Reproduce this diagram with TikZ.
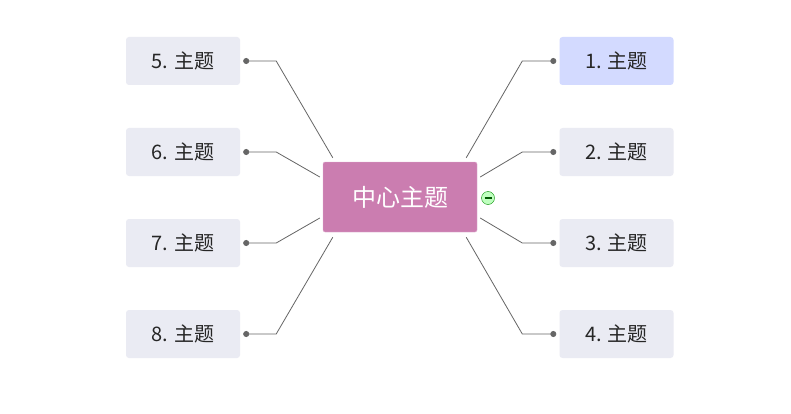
\documentclass[tikz,border=0pt]{standalone}
\usepackage{fontspec}
\setmainfont{Noto Sans CJK SC}
\usepackage{xcolor}
\usetikzlibrary{arrows.meta,positioning,calc}

\definecolor{rootpink}{HTML}{CB7DB0}
\definecolor{topicgray}{HTML}{EAEBF3}
\definecolor{topicblue}{HTML}{D3DAFF}
\definecolor{linegray}{HTML}{666666}

\begin{document}
\begin{tikzpicture}[x=1pt, y=-1pt,
  root/.style={fill=rootpink, draw=rootpink!60!white, rounded corners=2pt, minimum width=154pt, minimum height=70pt, inner sep=0pt, text=white, font=\fontsize{24}{28}\selectfont},
  topic/.style={fill=topicgray, rounded corners=3pt, minimum width=114pt, minimum height=48pt, inner sep=0pt, text=black!85, font=\fontsize{20}{24}\selectfont},
  conn/.style={linegray, line width=0.8pt, -{Circle[length=6pt]}, shorten >=3pt},
  fold/.style={circle, draw=green!55!black, fill=green!25!white, minimum size=13pt, inner sep=0pt}
]
  \useasboundingbox[fill=white] (0,0) rectangle (791,414);

  \node[root] (c) at (400,197) {中心主题};

  \node[topic, fill=topicblue] (t1) at (616.5,61) {1. 主题};
  \node[topic] (t2) at (616.5,152) {2. 主题};
  \node[topic] (t3) at (616.5,243) {3. 主题};
  \node[topic] (t4) at (616.5,334) {4. 主题};
  \node[topic] (t5) at (183,61) {5. 主题};
  \node[topic] (t6) at (183,152) {6. 主题};
  \node[topic] (t7) at (183,243) {7. 主题};
  \node[topic] (t8) at (183,334) {8. 主题};

  % right branches
  \draw[conn] ($(c.north east)+(-11,-4)$) -- ($(t1.west)+(-37,0)$) -- (t1.west);
  \draw[conn] ($(c.east)+(3,-20)$) -- ($(t2.west)+(-37,0)$) -- (t2.west);
  \draw[conn] ($(c.east)+(3,21)$) -- ($(t3.west)+(-37,0)$) -- (t3.west);
  \draw[conn] ($(c.south east)+(-11,5)$) -- ($(t4.west)+(-37,0)$) -- (t4.west);
  % left branches
  \draw[conn] ($(c.north west)+(10,-4)$) -- ($(t5.east)+(36,0)$) -- (t5.east);
  \draw[conn] ($(c.west)+(-3,-20)$) -- ($(t6.east)+(36,0)$) -- (t6.east);
  \draw[conn] ($(c.west)+(-3,21)$) -- ($(t7.east)+(36,0)$) -- (t7.east);
  \draw[conn] ($(c.south west)+(10,5)$) -- ($(t8.east)+(36,0)$) -- (t8.east);

  % collapse button
  \node[fold] (f) at (488,198) {};
  \draw[green!35!black, line width=1.2pt] ($(f.center)+(-3.5,0)$) -- ($(f.center)+(3.5,0)$);
\end{tikzpicture}
\end{document}
